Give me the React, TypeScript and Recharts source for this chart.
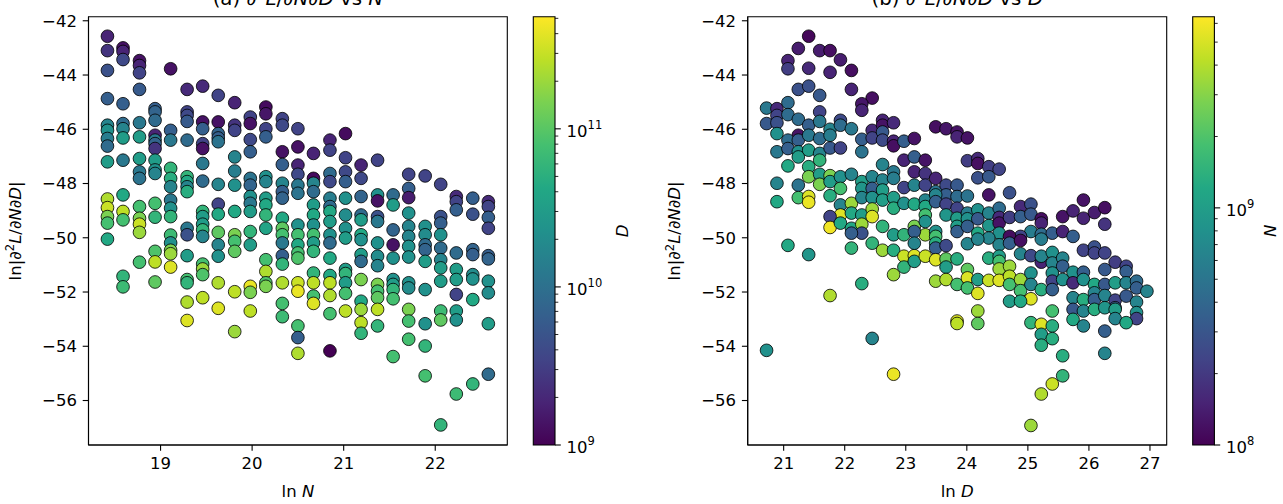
import React from "react";
import { ComposedChart, ReferenceArea, Scatter, ScatterChart, XAxis, YAxis } from "recharts";

const FONT = "DejaVu Sans";
const FS = 16.5;
const TITLE_FS = 19.8;

// shared y axis: ln|d2L/dNdD|
const Y_DOMAIN: [number, number] = [-57.64, -41.85];
const Y_TICKS = [-56, -54, -52, -50, -48, -46, -44, -42];

// panel (a) x axis: ln N, panel (b) x axis: ln D
const LN_N_DOMAIN: [number, number] = [18.213, 22.787];
const LN_N_TICKS = [19, 20, 21, 22];
const LN_D_DOMAIN: [number, number] = [20.411, 27.274];
const LN_D_TICKS = [21, 22, 23, 24, 25, 26, 27];

// colorbars (log scale)
const D_RANGE: [number, number] = [1e9, 5.12e11];
const D_MAJOR = [1e9, 1e10, 1e11];
const D_MINOR = [2e9, 3e9, 4e9, 5e9, 6e9, 7e9, 8e9, 9e9, 2e10, 3e10, 4e10, 5e10, 6e10, 7e10, 8e10, 9e10, 2e11, 3e11, 4e11, 5e11];
const N_RANGE: [number, number] = [1e8, 6.4e9];
const N_MAJOR = [1e8, 1e9];
const N_MINOR = [2e8, 3e8, 4e8, 5e8, 6e8, 7e8, 8e8, 9e8, 2e9, 3e9, 4e9, 5e9, 6e9];

// (a) rows: [ln N, ln|d2L/dNdD|, ln D]
const panelA: [number, number, number][] = [
  [18.42,-42.57,21.34],[18.42,-43.10,21.66],[18.42,-43.83,22.28],[18.42,-44.87,22.59],[18.42,-45.85,23.53],[18.42,-46.04,23.84],[18.42,-46.34,23.34],[18.42,-46.62,22.90],[18.42,-47.20,24.15],[18.42,-48.57,26.21],[18.42,-48.89,26.46],[18.42,-49.22,25.71],[18.42,-49.46,25.09],[18.42,-50.05,24.46],
  [18.59,-43.00,21.03],[18.59,-43.13,21.34],[18.59,-43.43,22.09],[18.59,-45.06,22.59],[18.59,-45.79,22.90],[18.59,-45.98,23.53],[18.59,-46.32,24.15],[18.59,-47.14,23.22],[18.59,-48.42,24.46],[18.59,-49.03,26.34],[18.59,-49.34,25.09],[18.59,-51.42,24.78],[18.59,-51.81,24.96],
  [18.77,-43.47,21.03],[18.77,-43.65,21.34],[18.77,-43.92,21.97],[18.77,-44.53,22.47],[18.77,-45.76,23.22],[18.77,-46.28,24.15],[18.77,-47.08,24.15],[18.77,-47.57,23.22],[18.77,-47.81,23.09],[18.77,-48.85,25.09],[18.77,-49.28,25.71],[18.77,-49.50,26.46],[18.77,-49.80,26.02],[18.77,-50.90,25.09],
  [18.94,-45.24,22.59],[18.94,-45.36,22.72],[18.94,-45.67,22.90],[18.94,-46.22,21.34],[18.94,-46.40,23.22],[18.94,-46.53,22.72],[18.94,-46.71,21.66],[18.94,-47.14,24.15],[18.94,-47.50,23.84],[18.94,-47.63,23.53],[18.94,-48.73,25.09],[18.94,-49.24,24.78],[18.94,-50.50,25.21],[18.94,-50.89,26.34],[18.94,-51.63,25.40],
  [19.11,-43.77,21.03],[19.11,-46.04,22.59],[19.11,-46.40,23.22],[19.11,-47.44,24.78],[19.11,-47.81,24.59],[19.11,-48.12,23.53],[19.11,-48.61,23.22],[19.11,-48.91,23.84],[19.11,-49.22,24.78],[19.11,-49.90,24.96],[19.11,-50.19,23.84],[19.11,-50.46,25.71],[19.11,-50.59,26.02],[19.11,-51.08,26.65],
  [19.29,-44.53,21.47],[19.29,-45.36,21.97],[19.29,-45.49,22.09],[19.29,-45.71,22.47],[19.29,-46.40,22.90],[19.29,-47.75,24.78],[19.29,-47.93,24.46],[19.29,-48.12,23.53],[19.29,-48.30,24.59],[19.29,-49.65,23.22],[19.29,-49.89,22.28],[19.29,-50.66,24.15],[19.29,-51.54,25.09],[19.29,-51.66,24.78],[19.29,-52.37,26.21],[19.29,-53.05,26.65],
  [19.46,-44.41,21.47],[19.46,-45.73,21.03],[19.46,-45.98,22.59],[19.46,-46.53,21.97],[19.46,-46.71,21.03],[19.46,-47.26,23.22],[19.46,-47.91,22.90],[19.46,-49.03,24.78],[19.46,-49.22,24.15],[19.46,-49.50,24.15],[19.46,-49.71,24.78],[19.46,-49.95,23.53],[19.46,-50.97,25.09],[19.46,-51.15,26.02],[19.46,-51.36,25.21],[19.46,-52.21,26.34],
  [19.63,-44.75,21.97],[19.63,-45.73,21.03],[19.63,-46.16,22.72],[19.63,-46.32,22.59],[19.63,-46.46,23.09],[19.63,-48.03,23.53],[19.63,-48.76,21.97],[19.63,-49.13,24.46],[19.63,-49.80,25.40],[19.63,-50.26,23.53],[19.63,-50.68,23.84],[19.63,-51.66,26.21],[19.63,-52.60,26.65],
  [19.81,-45.02,21.34],[19.81,-45.85,21.66],[19.81,-46.04,21.97],[19.81,-47.02,23.53],[19.81,-47.54,23.34],[19.81,-48.06,23.84],[19.81,-49.03,24.46],[19.81,-49.89,25.71],[19.81,-50.13,25.09],[19.81,-50.50,25.40],[19.81,-51.99,26.34],[19.81,-53.46,26.02],
  [19.98,-45.55,21.97],[19.98,-45.79,21.03],[19.98,-46.38,22.09],[19.98,-46.83,22.59],[19.98,-47.81,23.09],[19.98,-48.06,22.72],[19.98,-48.48,23.84],[19.98,-48.73,23.22],[19.98,-49.03,24.15],[19.98,-49.77,24.78],[19.98,-50.26,24.15],[19.98,-51.79,26.77],[19.98,-52.01,25.71],[19.98,-52.70,26.34],
  [20.15,-45.18,20.91],[20.15,-45.43,21.09],[20.15,-45.98,21.97],[20.15,-46.28,22.59],[20.15,-47.75,23.84],[20.15,-47.93,23.53],[20.15,-48.54,24.15],[20.15,-48.79,24.46],[20.15,-49.16,24.78],[20.15,-49.65,24.34],[20.15,-50.81,25.09],[20.15,-51.24,26.21],[20.15,-51.66,25.21],[20.15,-51.79,25.71],
  [20.33,-45.61,21.97],[20.33,-45.85,22.09],[20.33,-46.83,21.03],[20.33,-47.30,22.59],[20.33,-47.99,23.53],[20.33,-48.30,22.59],[20.33,-48.54,22.72],[20.33,-49.28,24.46],[20.33,-49.65,25.40],[20.33,-49.89,25.09],[20.33,-50.19,23.22],[20.33,-50.66,22.59],[20.33,-50.97,24.78],[20.33,-51.66,26.21],[20.33,-52.42,25.09],[20.33,-52.91,24.96],
  [20.50,-45.98,21.97],[20.50,-46.65,21.03],[20.50,-47.32,21.34],[20.50,-47.66,22.09],[20.50,-48.06,23.22],[20.50,-48.36,23.09],[20.50,-49.53,23.84],[20.50,-49.89,25.09],[20.50,-50.26,24.46],[20.50,-50.56,25.09],[20.50,-50.75,25.21],[20.50,-51.66,26.46],[20.50,-51.97,26.77],[20.50,-53.25,25.09],[20.50,-53.68,22.59],[20.50,-54.26,26.21],
  [20.67,-46.89,21.34],[20.67,-47.81,20.91],[20.67,-47.99,23.53],[20.67,-48.30,22.90],[20.67,-48.79,24.15],[20.67,-49.16,24.46],[20.67,-49.53,23.84],[20.67,-49.89,25.09],[20.67,-50.19,24.15],[20.67,-50.50,24.78],[20.67,-51.30,24.78],[20.67,-51.66,26.34],[20.67,-52.15,25.09],[20.67,-52.42,26.65],
  [20.85,-46.40,21.34],[20.85,-46.77,21.97],[20.85,-47.63,22.90],[20.85,-47.93,22.09],[20.85,-48.54,23.34],[20.85,-48.85,22.90],[20.85,-49.03,24.46],[20.85,-49.40,24.15],[20.85,-49.89,23.84],[20.85,-50.19,22.90],[20.85,-50.75,24.46],[20.85,-51.39,24.46],[20.85,-51.66,26.34],[20.85,-52.13,26.21],[20.85,-52.80,25.09],[20.85,-54.17,20.72],
  [21.02,-46.16,20.91],[21.02,-47.05,21.97],[21.02,-47.57,22.09],[21.02,-47.93,22.59],[21.02,-48.54,23.84],[21.02,-49.16,23.72],[21.02,-49.65,23.84],[21.02,-50.01,24.15],[21.02,-51.17,24.15],[21.02,-51.32,24.78],[21.02,-51.66,24.15],[21.02,-52.05,25.09],[21.02,-52.70,26.34],
  [21.19,-47.32,21.34],[21.19,-47.81,22.09],[21.19,-48.48,22.72],[21.19,-49.16,22.90],[21.19,-49.34,24.15],[21.19,-49.89,24.46],[21.19,-50.07,23.84],[21.19,-50.62,24.15],[21.19,-50.87,22.90],[21.19,-51.54,25.71],[21.19,-52.34,24.46],[21.19,-52.64,26.02],[21.19,-53.13,26.34],[21.19,-53.52,24.78],
  [21.37,-47.14,21.97],[21.37,-48.42,23.84],[21.37,-48.64,21.03],[21.37,-49.22,22.28],[21.37,-49.40,23.22],[21.37,-50.19,23.84],[21.37,-50.68,23.72],[21.37,-51.03,23.53],[21.37,-51.72,25.71],[21.37,-51.97,25.09],[21.37,-52.21,25.40],[21.37,-52.64,26.34],[21.37,-53.25,24.78],
  [21.54,-48.42,22.90],[21.54,-48.79,24.15],[21.54,-49.71,22.72],[21.54,-50.26,21.03],[21.54,-50.75,23.84],[21.54,-51.54,23.84],[21.54,-51.72,24.15],[21.54,-51.91,24.78],[21.54,-52.25,25.09],[21.54,-54.38,25.09],
  [21.71,-47.66,21.97],[21.71,-48.18,22.59],[21.71,-48.52,21.22],[21.71,-49.09,23.84],[21.71,-49.58,23.53],[21.71,-49.95,23.53],[21.71,-50.32,23.84],[21.71,-50.71,23.84],[21.71,-51.66,23.84],[21.71,-51.85,23.72],[21.71,-52.64,25.71],[21.71,-53.07,25.09],[21.71,-53.74,25.09],
  [21.89,-47.72,21.97],[21.89,-49.58,23.84],[21.89,-49.89,23.72],[21.89,-50.26,22.90],[21.89,-50.44,22.72],[21.89,-50.87,24.15],[21.89,-51.91,23.84],[21.89,-53.17,23.84],[21.89,-53.99,24.78],[21.89,-55.09,25.09],
  [22.06,-48.03,21.97],[22.06,-49.22,22.28],[22.06,-49.46,22.59],[22.06,-49.89,23.84],[22.06,-50.38,22.90],[22.06,-50.81,23.53],[22.06,-51.11,24.15],[22.06,-51.60,24.15],[22.06,-52.70,24.96],[22.06,-53.03,25.40],[22.06,-56.90,24.78],
  [22.23,-48.48,21.47],[22.23,-48.67,21.97],[22.23,-48.97,22.59],[22.23,-50.56,22.90],[22.23,-51.17,24.15],[22.23,-51.54,24.15],[22.23,-52.09,21.97],[22.23,-52.70,24.15],[22.23,-53.03,23.84],[22.23,-55.76,24.96],
  [22.41,-48.54,22.59],[22.41,-49.13,22.28],[22.41,-50.44,22.72],[22.41,-50.62,22.59],[22.41,-51.36,23.72],[22.41,-51.52,23.84],[22.41,-52.28,24.46],[22.41,-55.39,24.78],
  [22.58,-48.67,21.47],[22.58,-48.85,21.97],[22.58,-49.25,22.59],[22.58,-49.65,21.97],[22.58,-50.66,22.59],[22.58,-50.78,22.72],[22.58,-51.60,23.84],[22.58,-52.03,23.72],[22.58,-53.17,24.15],[22.58,-55.03,22.90],
];

// (b) rows: [ln D, ln|d2L/dNdD|, ln N]
const panelB: [number, number, number][] = [
  [21.41,-42.57,18.50],[21.24,-43.02,18.75],[21.59,-43.10,18.75],[21.76,-43.10,18.59],[21.07,-43.47,18.84],[21.93,-43.44,18.75],[21.07,-43.77,19.17],[21.41,-43.75,18.92],[21.76,-43.90,18.84],[22.11,-43.83,18.59],
  [21.24,-44.53,19.46],[21.41,-44.41,19.46],[22.11,-44.53,18.84],[21.59,-44.75,19.58],[22.45,-44.85,18.59],[22.28,-45.06,18.67],[22.28,-45.30,18.84],[20.72,-45.22,20.08],[20.89,-45.24,18.92],[21.07,-45.02,19.88],[21.59,-45.36,19.25],
  [20.72,-45.79,19.58],[20.89,-45.49,19.25],[20.89,-45.76,19.46],[21.07,-45.46,19.88],[21.24,-45.63,19.88],[21.41,-45.85,19.67],[21.59,-45.71,20.08],[21.76,-46.00,20.29],[21.93,-45.67,19.34],[21.93,-45.85,19.88],[22.11,-45.98,20.08],[22.45,-46.04,18.92],[22.62,-45.67,18.84],[22.62,-45.85,18.63],[22.80,-45.76,18.92],
  [20.89,-46.16,20.50],[21.24,-46.22,18.63],[21.07,-46.40,19.88],[21.24,-46.40,19.67],[21.41,-46.22,20.08],[21.59,-46.34,19.88],[21.76,-46.22,20.17],[22.28,-46.37,19.67],[22.45,-46.32,19.25],[22.62,-46.10,19.58],[22.62,-46.40,19.34],[22.80,-46.44,18.84],[22.80,-46.61,18.59],[22.97,-46.44,19.67],[23.14,-46.34,18.63],
  [20.89,-46.83,20.08],[21.07,-46.71,19.67],[21.24,-46.83,20.50],[21.24,-47.02,20.71],[21.41,-46.77,20.71],[21.59,-46.89,20.29],[21.59,-47.14,21.12],[21.76,-46.69,19.58],[21.93,-46.69,19.25],[22.28,-46.83,20.00],
  [21.07,-47.35,20.92],[21.41,-47.38,21.00],[21.41,-47.75,21.75],[21.59,-47.66,20.71],[21.59,-48.03,21.75],[21.76,-47.71,21.75],[21.76,-47.93,20.71],[21.93,-47.75,20.50],[21.93,-48.18,21.33],[22.11,-47.66,20.29],[22.28,-47.93,20.71],[22.28,-48.18,20.58],[22.45,-47.75,20.29],[22.45,-48.18,19.67],[22.62,-47.30,20.29],[22.62,-47.87,20.29],[22.80,-47.57,20.08],[22.80,-47.81,20.17],[22.62,-48.24,20.71],
  [22.97,-47.14,18.84],[22.97,-48.15,19.25],[23.14,-47.02,19.67],[23.14,-47.57,18.84],[23.14,-48.06,20.29],[23.32,-47.14,18.63],[23.32,-47.63,19.04],[23.32,-48.06,19.25],[23.49,-47.81,18.84],[23.49,-48.30,20.00],[23.66,-48.06,19.34],[23.66,-48.42,19.67],[23.84,-48.06,19.58],
  [23.49,-45.91,18.59],[23.66,-45.98,18.67],[23.84,-46.10,18.63],[23.84,-46.28,18.84],
  [20.89,-47.99,20.29],[20.89,-48.67,20.92],[21.24,-48.06,20.00],[21.24,-48.52,21.33],[21.41,-48.48,22.37],[21.41,-48.69,22.46],[21.76,-48.45,21.00],[21.93,-48.79,20.29],[22.11,-48.73,21.96],[21.93,-49.16,22.37],[21.76,-49.22,19.25],[22.11,-49.09,20.92],[22.28,-48.52,20.29],[22.28,-49.16,20.71],[22.45,-48.52,20.50],[22.45,-48.94,21.96],[22.45,-49.22,22.37],[22.62,-48.61,20.71],[22.80,-48.52,20.71],[22.80,-48.91,21.00],[22.97,-48.73,20.50],[23.14,-48.76,20.92],[23.32,-48.61,20.29],[23.32,-48.85,20.92],[23.32,-49.16,21.33],[23.49,-48.42,20.29],[23.49,-48.67,19.67],[23.66,-48.76,19.25],[23.66,-49.16,20.58],[23.84,-48.48,19.88],[23.84,-48.91,19.25],[23.84,-49.28,20.71],
  [21.76,-49.62,22.50],[21.93,-49.46,20.92],[22.11,-49.65,20.92],[22.28,-49.50,21.96],[22.28,-49.83,19.46],[22.62,-49.58,21.12],[22.80,-49.89,20.71],[22.97,-49.89,21.12],[23.14,-49.58,21.75],[23.32,-49.40,20.50],[23.32,-49.89,21.96],[23.49,-49.77,20.50],[23.49,-49.95,21.33],[23.84,-49.58,20.71],[23.84,-49.77,19.67],
  [22.11,-49.83,19.67],[23.14,-49.77,19.67],[23.49,-50.20,21.00],[23.49,-50.38,19.67],[23.66,-50.29,19.34],[21.07,-50.28,20.92],[21.41,-50.62,20.58],[22.11,-50.38,21.12],[22.45,-50.20,21.12],[22.62,-50.46,21.96],[22.80,-50.46,21.00],[22.97,-50.68,22.25],[22.97,-51.08,21.12],[23.14,-50.66,22.37],[23.14,-50.87,20.71],[23.14,-50.20,20.29],[23.32,-50.68,22.25],[23.49,-50.81,22.37],[23.66,-50.78,21.54],[23.66,-51.08,20.71],[23.84,-50.78,21.00],
  [22.80,-51.36,21.96],[23.49,-51.60,21.96],[23.66,-51.54,22.08],[23.84,-51.72,21.33],[22.28,-51.69,21.00],[21.76,-52.13,22.08],[23.84,-53.07,22.37],[23.84,-53.16,22.16],[22.45,-53.71,20.29],[20.72,-54.15,20.50],[22.80,-55.03,22.46],
  [24.01,-46.32,18.63],[24.01,-47.16,19.17],[24.18,-47.08,18.92],[24.18,-47.26,18.59],[24.36,-47.38,19.17],[24.53,-47.47,19.25],[24.18,-47.79,19.46],[24.36,-47.75,19.58],[24.36,-48.42,18.63],[24.70,-48.34,19.46],[24.01,-48.46,20.00],[24.01,-49.09,20.17],[24.01,-49.30,20.50],[24.01,-49.58,19.67],[24.18,-48.97,20.50],[24.18,-49.30,19.58],[24.18,-49.83,20.92],[24.36,-49.09,20.29],[24.36,-49.55,20.58],[24.53,-48.91,19.88],[24.53,-49.25,18.92],[24.53,-49.46,18.63],[24.53,-49.83,20.50],[24.70,-49.25,19.17],
  [24.88,-48.85,18.92],[24.88,-49.22,19.67],[25.05,-48.76,19.46],[25.05,-49.13,19.58],[25.22,-49.30,18.59],[25.22,-49.46,18.84],[25.05,-49.77,20.17],[25.22,-49.87,19.88],[25.40,-49.83,19.67],[25.57,-49.22,18.63],[25.57,-49.77,18.84],[25.74,-49.01,18.84],[25.74,-49.95,19.67],[25.91,-48.61,18.63],[25.91,-49.28,18.84],[26.09,-49.07,18.75],[26.26,-48.89,18.59],[26.26,-49.50,19.04],[24.88,-49.95,19.25],[24.70,-49.95,18.55],
  [24.36,-50.01,20.29],[24.53,-50.26,20.29],[24.70,-50.20,19.67],[24.88,-50.10,18.59],[25.22,-50.05,20.17],[24.01,-50.22,20.29],[24.18,-50.05,20.29],[24.36,-50.75,21.00],[24.53,-50.68,20.71],[24.53,-50.87,21.33],[24.88,-50.59,20.29],[25.05,-50.66,19.34],[25.22,-50.90,18.84],[25.22,-50.68,20.29],[25.40,-50.54,20.50],[25.40,-50.93,20.29],[25.57,-50.75,20.29],[25.57,-51.05,19.67],[25.91,-50.46,19.25],[26.09,-50.34,19.46],[26.09,-50.56,19.25],[26.26,-50.56,19.25],[26.43,-50.90,19.17],[26.61,-51.05,19.25],[26.61,-51.24,19.67],[26.26,-51.17,19.58],
  [24.01,-51.17,21.54],[24.01,-51.48,22.37],[24.01,-51.85,21.33],[24.18,-51.54,20.71],[24.18,-52.05,22.37],[24.36,-51.57,22.25],[24.53,-51.15,21.96],[24.53,-51.57,22.37],[24.70,-51.05,21.96],[24.70,-51.42,22.16],[24.70,-51.72,21.33],[24.88,-51.54,21.96],[24.88,-51.95,21.33],[25.05,-51.30,20.50],[25.05,-51.72,20.29],[25.05,-52.25,22.37],[24.70,-52.34,20.71],[24.88,-52.34,20.92],[25.22,-51.91,21.00],
  [25.40,-51.30,20.50],[25.40,-51.60,19.25],[25.40,-51.91,19.67],[25.57,-51.54,20.50],[25.74,-51.27,20.50],[25.74,-51.66,18.92],[25.74,-52.21,20.29],[25.91,-51.27,19.67],[25.91,-51.54,20.50],[25.91,-52.28,21.00],[26.09,-51.72,20.92],[26.09,-52.03,20.29],[26.09,-52.28,19.67],[26.26,-51.72,19.58],[26.26,-52.13,20.29],[26.43,-51.66,20.71],[26.43,-52.30,19.25],[26.43,-52.58,19.67],[26.61,-51.66,20.29],[26.61,-52.15,19.58],[26.78,-51.60,19.88],[26.78,-51.85,19.67],[26.78,-52.37,20.29],[26.78,-52.76,20.50],[26.78,-52.98,19.25],[26.95,-51.97,20.29],
  [25.74,-52.64,19.58],[25.74,-53.01,20.92],[25.91,-52.70,20.29],[25.91,-53.25,20.29],[26.09,-52.64,21.00],[26.26,-52.58,20.58],[26.43,-52.64,20.71],[26.43,-52.98,20.29],[26.61,-53.13,20.92],[26.26,-53.44,19.67],[26.26,-54.26,20.29],
  [24.18,-52.70,21.96],[24.18,-53.16,21.54],[25.05,-53.13,21.12],[25.22,-53.19,22.37],[25.40,-52.70,21.33],[25.40,-53.25,21.00],[25.22,-53.56,20.71],[25.40,-53.72,21.00],[25.22,-53.96,21.00],[25.57,-54.35,21.00],[25.57,-55.09,21.12],[25.40,-55.39,22.25],[25.22,-55.76,22.08],[25.05,-56.92,21.96],
];

const VIRIDIS = ["#440154", "#482475", "#414487", "#355f8d", "#2a788e", "#21918c", "#22a884", "#44bf70", "#7ad151", "#bddf26", "#fde725"];

function viridis(t: number) {
  const s = Math.min(1, Math.max(0, t)) * (VIRIDIS.length - 1);
  const i = Math.min(VIRIDIS.length - 2, Math.floor(s));
  const f = s - i;
  const a = parseInt(VIRIDIS[i].slice(1), 16);
  const b = parseInt(VIRIDIS[i + 1].slice(1), 16);
  const ch = (sh: number) => Math.round(((a >> sh) & 255) * (1 - f) + ((b >> sh) & 255) * f);
  return `rgb(${ch(16)},${ch(8)},${ch(0)})`;
}

const minus = (v: number) => (v < 0 ? `\u2212${Math.abs(v)}` : `${v}`);
const tickStyle = { fill: "#000", fontSize: FS, fontFamily: FONT };
const lineStyle = { stroke: "#000", strokeWidth: 1.1 };

const Dot = (props: any) => (
  <circle cx={props.cx} cy={props.cy} r={6.35} fill={props.payload.fill} stroke="#000" strokeWidth={0.8} />
);

function Panel({ rows, left, marginLeft, marginRight, xDomain, xTicks, cRange }: any) {
  const lo = Math.log(cRange[0]);
  const hi = Math.log(cRange[1]);
  const pts = rows.map(([x, y, c]: number[]) => ({ x, y, fill: viridis((c - lo) / (hi - lo)) }));
  return (
    <div style={{ position: "absolute", left, top: 0 }}>
      <ScatterChart width={520} height={504} margin={{ top: 16.7, right: marginRight, bottom: 29, left: marginLeft }}>
        <XAxis type="number" dataKey="x" domain={xDomain} ticks={xTicks} allowDataOverflow interval={0} height={30}
          axisLine={lineStyle} tickLine={lineStyle} tickSize={5.8} tickMargin={6.5} tick={tickStyle} />
        <YAxis type="number" dataKey="y" domain={Y_DOMAIN} ticks={Y_TICKS} allowDataOverflow interval={0} width={60}
          axisLine={lineStyle} tickLine={lineStyle} tickSize={5.8} tickMargin={5.8} tickFormatter={minus} tick={tickStyle} />
        <Scatter data={pts} shape={Dot} isAnimationActive={false} />
        <ReferenceArea x1={xDomain[0]} x2={xDomain[1]} y1={Y_DOMAIN[0]} y2={Y_DOMAIN[1]} fill="none" stroke="#000" strokeWidth={1.1} />
      </ScatterChart>
    </div>
  );
}

function ColorBar({ left, width, marginLeft, marginRight, range, major, minor, gid }: any) {
  const CbTick = (props: any) => {
    const { x, y, payload } = props;
    const isMajor = major.includes(payload.value);
    const len = isMajor ? 5.8 : 3.3;
    return (
      <g>
        <line x1={x} x2={x + len} y1={y} y2={y} stroke="#000" strokeWidth={isMajor ? 1.1 : 0.85} />
        {isMajor && (
          <text x={x + len + 5.8} y={y + 7.7} fontSize={FS} fontFamily={FONT} fill="#000">
            10<tspan dy={-7.5} fontSize={11.5}>{Math.round(Math.log10(payload.value))}</tspan>
          </text>
        )}
      </g>
    );
  };
  return (
    <div style={{ position: "absolute", left, top: 0 }}>
      <ComposedChart width={width} height={504} data={[{ k: "cb" }]} margin={{ top: 16.7, right: marginRight, bottom: 59, left: marginLeft }}>
        <defs>
          <linearGradient id={gid} x1="0" y1="1" x2="0" y2="0">
            {VIRIDIS.map((c, i) => (
              <stop key={c} offset={i / (VIRIDIS.length - 1)} stopColor={c} />
            ))}
          </linearGradient>
        </defs>
        <XAxis dataKey="k" type="category" hide />
        <YAxis orientation="right" type="number" scale="log" domain={range} allowDataOverflow ticks={[...major, ...minor]}
          interval={0} width={60} axisLine={false} tickLine={false} tickSize={0} tickMargin={0} tick={<CbTick />} />
        <ReferenceArea y1={range[0]} y2={range[1]} fill={`url(#${gid})`} fillOpacity={1} stroke="#000" strokeWidth={1.1} />
      </ComposedChart>
    </div>
  );
}

const Expr = ({ fs }: { fs: number }) => (
  <>
    <tspan>∂</tspan>
    <tspan dy={-0.4 * fs} fontSize={0.7 * fs}>2</tspan>
    <tspan dy={0.4 * fs} fontStyle="italic">L</tspan>
    <tspan>/∂</tspan>
    <tspan fontStyle="italic">N</tspan>
    <tspan>∂</tspan>
    <tspan fontStyle="italic">D</tspan>
  </>
);

export default function App() {
  return (
    <div style={{ position: "absolute", left: 0, top: 0, width: 1283, height: 504, background: "#fff", overflow: "hidden" }}>
      <Panel rows={panelA} left={0} marginLeft={28.5} marginRight={12.7} xDomain={LN_N_DOMAIN} xTicks={LN_N_TICKS} cRange={D_RANGE} />
      <ColorBar left={520} width={120} marginLeft={13.3} marginRight={25} range={D_RANGE} major={D_MAJOR} minor={D_MINOR} gid="vir-d" />
      <Panel rows={panelB} left={660} marginLeft={27.7} marginRight={13.3} xDomain={LN_D_DOMAIN} xTicks={LN_D_TICKS} cRange={N_RANGE} />
      <ColorBar left={1180} width={103} marginLeft={12.7} marginRight={8.6} range={N_RANGE} major={N_MAJOR} minor={N_MINOR} gid="vir-n" />
      <svg width={1283} height={504} style={{ position: "absolute", left: 0, top: 0, pointerEvents: "none" }} fontFamily={FONT} fill="#000">
        <text x={297.9} y={4.5} textAnchor="middle" fontSize={TITLE_FS}>
          <tspan>(a) </tspan><Expr fs={TITLE_FS} /><tspan> vs </tspan><tspan fontStyle="italic">N</tspan>
        </text>
        <text x={957.2} y={4.5} textAnchor="middle" fontSize={TITLE_FS}>
          <tspan>(b) </tspan><Expr fs={TITLE_FS} /><tspan> vs </tspan><tspan fontStyle="italic">D</tspan>
        </text>
        <text x={297.9} y={497} textAnchor="middle" fontSize={FS}>
          ln <tspan fontStyle="italic">N</tspan>
        </text>
        <text x={957.2} y={497} textAnchor="middle" fontSize={FS}>
          ln <tspan fontStyle="italic">D</tspan>
        </text>
        <text transform="translate(21, 230.9) rotate(-90)" textAnchor="middle" fontSize={FS}>
          <tspan>ln|</tspan><Expr fs={FS} /><tspan>|</tspan>
        </text>
        <text transform="translate(680.2, 230.9) rotate(-90)" textAnchor="middle" fontSize={FS}>
          <tspan>ln|</tspan><Expr fs={FS} /><tspan>|</tspan>
        </text>
        <text transform="translate(628, 230.9) rotate(-90)" textAnchor="middle" fontSize={FS} fontStyle="italic">D</text>
        <text transform="translate(1276, 230.9) rotate(-90)" textAnchor="middle" fontSize={FS} fontStyle="italic">N</text>
      </svg>
    </div>
  );
}
